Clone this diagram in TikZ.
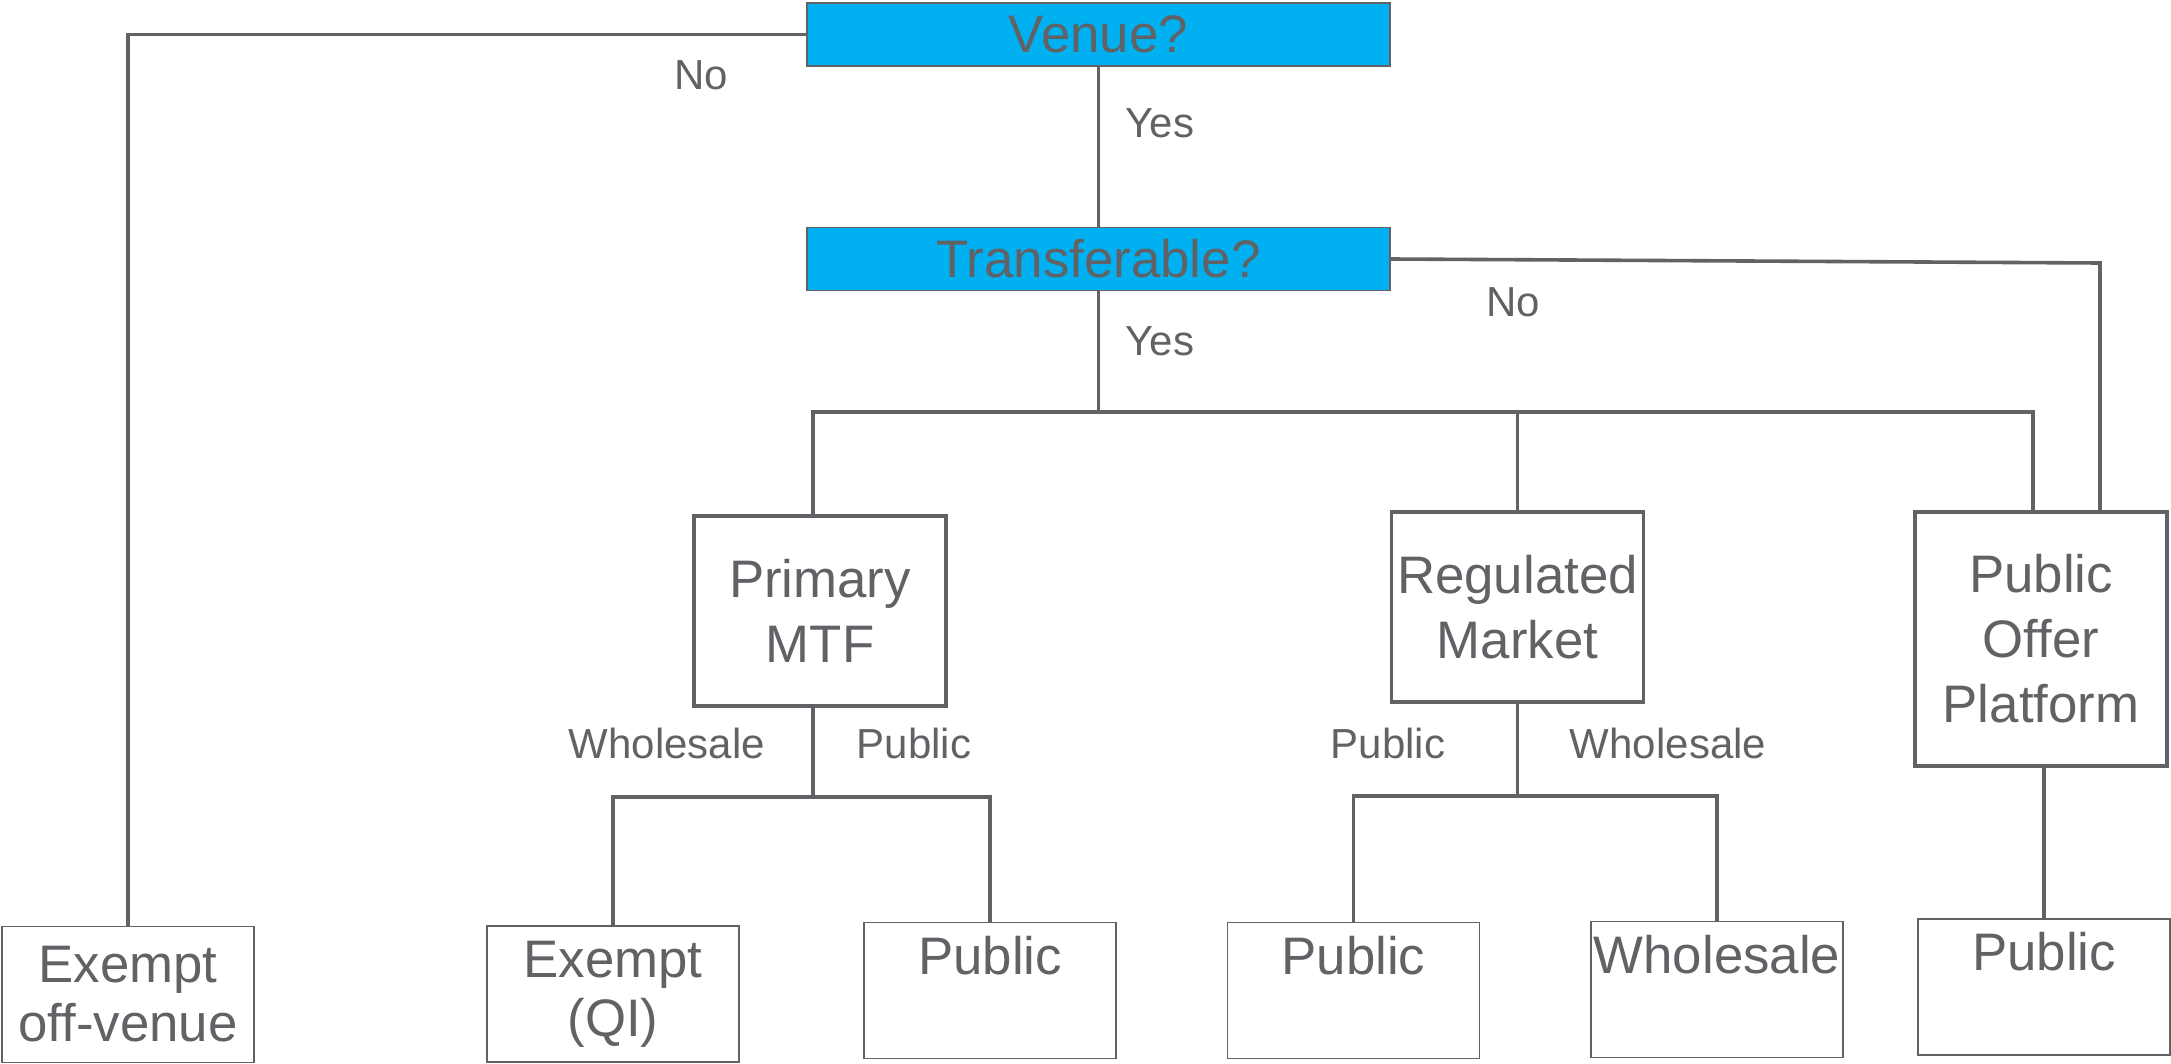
\documentclass[tikz,border=0pt]{standalone}
\usepackage{fontspec}
\setmainfont{Liberation Sans}
\usepackage{xcolor}
\usepackage{tikz}
\definecolor{lgray}{HTML}{606266}
\definecolor{qblue}{HTML}{00B0F0}

\begin{document}
\begin{tikzpicture}[x=0.5pt,y=-0.5pt,
  every node/.style={text=lgray,inner sep=0pt},
  line/.style={draw=lgray,line width=1.8pt},
  ask/.style={draw=lgray,line width=0.8pt,fill=qblue,minimum width=291.5pt,minimum height=31.5pt,font=\fontsize{26.4}{32.5}\selectfont},
  venuebox/.style={draw=lgray,line width=1.8pt,minimum width=126pt,align=center,font=\fontsize{26.4}{32.5}\selectfont},
  leaf/.style={draw=lgray,line width=0.7pt,minimum width=126pt,minimum height=68pt,align=center,font=\fontsize{26.4}{32.5}\selectfont},
  lbl/.style={font=\fontsize{21}{25}\selectfont}]

 \useasboundingbox (0,0) rectangle (2171,1064);

 %questions
 \node[ask] (venue) at (1098.5,34.5) {Venue?};
 \node[ask] (transf) at (1098.5,259) {Transferable?};

 %venues
 \node[venuebox,minimum height=95pt] (mtf) at (820,611) {Primary\\MTF};
 \node[venuebox,minimum height=95pt] (regm) at (1517.5,607) {Regulated\\Market};
 \node[venuebox,minimum height=127pt] (pop) at (2041,639) {Public\\Offer\\Platform};

 %outcomes
 \node[leaf] (offv) at (128,994.5) {Exempt\\[-3pt]off-venue};
 \node[leaf] (qi) at (613,994) {Exempt\\[-3pt](QI)};
 \node[leaf] (pubm) at (990,990.5) {Public\\[-7pt] \strut};
 \node[leaf] (pubr) at (1353.5,990.5) {Public\\[-7pt] \strut};
 \node[leaf] (whol) at (1717,989.5) {Wholesale\\[-7pt] \strut};
 \node[leaf] (pubp) at (2044,987) {Public\\[-7pt] \strut};

 %venue?
 \draw[line] (venue.west) -| (offv.north);
 \draw[line] (venue.south) -- (transf.north);
 \node[lbl] (vno) at (701,75) {No};
 \node[lbl] (vyes) at (1160,123) {Yes};

 %transferable?
 \coordinate (nocorner) at (2100,263);
 \draw[line] (transf.east) -- (nocorner) -- (nocorner |- pop.north);
 \coordinate (tbar) at (transf.south |- 0,412);
 \draw[line] ([xshift=-3.5pt]mtf.north) |- (tbar) -| ([xshift=-4pt]pop.north);
 \draw[line] (transf.south) -- (tbar);
 \draw[line] (regm.north) -- (regm.north |- tbar);
 \node[lbl] (tno) at (1513,302) {No};
 \node[lbl] (tyes) at (1160,341) {Yes};

 %MTF
 \coordinate (mbar) at ([xshift=-3.5pt]mtf.south |- 0,797);
 \draw[line] ([xshift=-3.5pt]mtf.south) -- (mbar);
 \draw[line] (qi.north) |- (mbar) -| (pubm.north);
 \node[lbl] (mwhol) at (667,743) {Wholesale};
 \node[lbl] (mpub) at (914,743) {Public};

 %RM
 \coordinate (rbar) at (regm.south |- 0,796);
 \draw[line] (regm.south) -- (rbar);
 \draw[line] (pubr.north) |- (rbar) -| (whol.north);
 \node[lbl] (rpub) at (1388,743) {Public};
 \node[lbl] (rwhol) at (1668,743) {Wholesale};

 %POP
 \draw[line] (pubp.north |- pop.south) -- (pubp.north);

\end{tikzpicture}
\end{document}
